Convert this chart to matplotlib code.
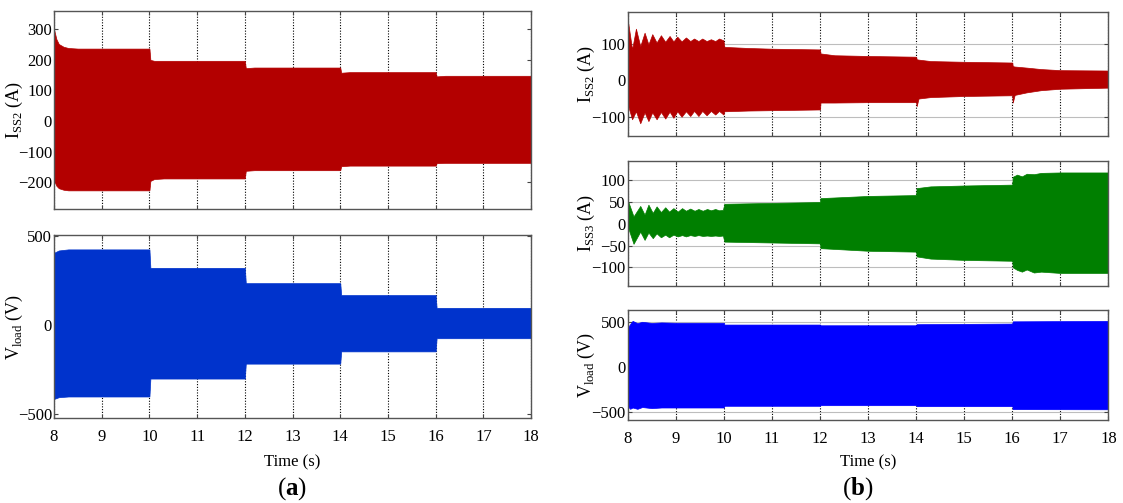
import matplotlib
matplotlib.use('Agg')
import matplotlib.pyplot as plt

plt.rcParams['font.family'] = ['Liberation Serif', 'DejaVu Serif']
plt.rcParams['mathtext.fontset'] = 'custom'
plt.rcParams['mathtext.rm'] = 'Liberation Serif'
plt.rcParams['mathtext.bf'] = 'Liberation Serif:bold'

# ---------------- data (envelopes) ----------------
# (a) I_SS2
t_a_iss2 = [8.0, 8.05, 8.1, 8.2, 8.3, 8.5, 10.0, 10.02, 10.1, 10.3, 12.0, 12.02, 12.2,
            14.0, 14.02, 14.2, 16.0, 16.02, 16.2, 18.0]
up_a_iss2 = [300, 268, 252, 243, 239, 237, 237, 200, 197, 197, 197, 173, 175,
             175, 158, 160, 160, 146, 148, 148]
lo_a_iss2 = [-195, -212, -220, -225, -227, -227, -227, -196, -190, -188, -188, -163, -161,
             -161, -148, -146, -146, -138, -137, -137]

# (a) V_load
t_a_vload = [8.0, 8.1, 8.3, 10.0, 10.02, 12.0, 12.02, 14.0, 14.02, 16.0, 16.02, 18.0]
up_a_vload = [405, 418, 424, 424, 320, 320, 234, 234, 167, 167, 95, 95]
lo_a_vload = [-418, -408, -404, -404, -303, -303, -219, -219, -150, -150, -76, -76]

# (b) I_SS2
t_b_iss2 = [8.00, 8.01, 8.09, 8.17, 8.26, 8.35, 8.43, 8.51, 8.60, 8.69,
            8.78, 8.87, 8.95, 9.03, 9.12, 9.21, 9.30, 9.38, 9.47, 9.55,
            9.64, 9.73, 9.82, 9.90, 9.99, 10.01, 10.5, 11.0, 12.0, 12.01,
            12.3, 13.0, 14.0, 14.01, 14.05, 14.3, 15.0, 16.0, 16.01, 16.05,
            16.3, 16.6, 17.0, 18.0]
up_b_iss2 = [150, 157, 85, 142, 94, 131, 99, 127, 104, 124,
             106, 122, 107, 120, 107, 118, 108, 115, 108, 115,
             108, 113, 108, 115, 110, 92, 89, 87, 85, 74,
             69, 67, 65, 58, 57, 53, 51, 49, 39, 38,
             35, 31, 28, 27]
lo_b_iss2 = [-40, -71, -107, -85, -118, -88, -112, -88, -107, -87,
             -105, -86, -103, -85, -100, -85, -98, -84, -98, -84,
             -96, -84, -94, -84, -94, -85, -83, -82, -80, -61,
             -61, -60, -60, -71, -50, -46, -43, -41, -61, -40,
             -33, -27, -23, -20]

# (b) I_SS3
t_b_iss3 = [8.00, 8.01, 8.12, 8.26, 8.35, 8.43, 8.52, 8.60, 8.69, 8.78,
            8.86, 8.95, 9.04, 9.13, 9.21, 9.30, 9.39, 9.47, 9.56, 9.65,
            9.73, 9.82, 9.90, 9.98, 10.01, 11.0, 12.0, 12.01, 13.0, 14.0,
            14.01, 14.3, 15.0, 16.0, 16.01, 16.1, 16.2, 16.3, 16.45, 16.6,
            17.0, 18.0]
up_b_iss3 = [30, 51, 17, 41, 21, 44, 25, 40, 27, 38,
             28, 36, 28, 36, 30, 35, 30, 34, 30, 34,
             31, 34, 31, 32, 46, 48, 50, 59, 64, 66,
             82, 86, 88, 90, 108, 113, 109, 115, 114, 117,
             118, 118]
lo_b_iss3 = [-5, -10, -46, -18, -37, -20, -33, -22, -31, -25,
             -31, -25, -29, -26, -29, -26, -28, -26, -28, -27,
             -28, -27, -28, -27, -41, -43, -45, -56, -62, -64,
             -75, -80, -83, -85, -100, -106, -110, -105, -112, -110,
             -113, -113]

# (b) V_load
t_b_vload = [8.0, 8.05, 8.1, 8.2, 8.3, 8.5, 8.7, 9.0, 10.0, 10.01,
             12.0, 12.01, 14.0, 14.01, 16.0, 16.01, 18.0]
up_b_vload = [440, 480, 515, 490, 505, 492, 498, 494, 494, 474,
              474, 466, 466, 478, 485, 510, 515]
lo_b_vload = [-440, -470, -455, -470, -450, -462, -455, -455, -455, -436,
              -436, -429, -429, -440, -440, -473, -475]

x_ticks = [8, 9, 10, 11, 12, 13, 14, 15, 16, 17, 18]

# ---------------- figure ----------------
fig = plt.figure(figsize=(11.23, 5.03), dpi=100)


def style(ax, ylim, yticks, hgrid):
    ax.set_xlim(8, 18)
    ax.set_ylim(*ylim)
    ax.set_xticks(x_ticks)
    ax.set_yticks(yticks)
    ax.set_axisbelow(True)
    ax.grid(axis='x', linestyle=(0, (1, 1.5)), color='black', linewidth=0.8)
    if hgrid:
        ax.grid(axis='y', linestyle='-', color='#bdbdbd', linewidth=0.8)
    ax.tick_params(direction='in', top=True, right=True, labelsize=12,
                   length=3, width=0.8, color='#444444', pad=1.5)
    for s in ax.spines.values():
        s.set_color('#555555')
        s.set_linewidth(1.0)


# (a) top
ax1 = fig.add_axes([0.0481, 0.5845, 0.4248, 0.3936])
ax1.fill_between(t_a_iss2, lo_a_iss2, up_a_iss2, color='#b30000', linewidth=0.5)
style(ax1, (-288, 360), [-200, -100, 0, 100, 200, 300], False)
ax1.set_xticklabels([])
ax1.set_ylabel(r'I$_{\mathrm{SS2}}$ (A)', fontsize=13)
ax1.yaxis.set_label_coords(-0.06, 0.5)

# (a) bottom
ax2 = fig.add_axes([0.0481, 0.169, 0.4248, 0.3638])
ax2.fill_between(t_a_vload, lo_a_vload, up_a_vload, color='#0033cc', linewidth=0.5)
style(ax2, (-525, 505), [-500, 0, 500], False)
ax2.set_ylabel(r'V$_{\mathrm{load}}$ (V)', fontsize=13)
ax2.yaxis.set_label_coords(-0.06, 0.5)

# (b) top
ax3 = fig.add_axes([0.559, 0.7296, 0.428, 0.2459])
ax3.fill_between(t_b_iss2, lo_b_iss2, up_b_iss2, color='#b30000', linewidth=0.5)
style(ax3, (-153, 187), [-100, 0, 100], True)
ax3.set_xticklabels([])
ax3.set_ylabel(r'I$_{\mathrm{SS2}}$ (A)', fontsize=13)
ax3.yaxis.set_label_coords(-0.064, 0.5)

# (b) middle
ax4 = fig.add_axes([0.559, 0.4314, 0.428, 0.2491])
ax4.fill_between(t_b_iss3, lo_b_iss3, up_b_iss3, color='#007f00', linewidth=0.5)
style(ax4, (-143, 145), [-100, -50, 0, 50, 100], True)
ax4.set_xticklabels([])
ax4.set_ylabel(r'I$_{\mathrm{SS3}}$ (A)', fontsize=13)
ax4.yaxis.set_label_coords(-0.064, 0.5)

# (b) bottom
ax5 = fig.add_axes([0.559, 0.165, 0.428, 0.2187])
ax5.fill_between(t_b_vload, lo_b_vload, up_b_vload, color='#0000ff', linewidth=0.5)
style(ax5, (-595, 637), [-500, 0, 500], True)
ax5.set_ylabel(r'V$_{\mathrm{load}}$ (V)', fontsize=13)
ax5.yaxis.set_label_coords(-0.064, 0.5)

for ax in (ax2, ax5):
    ax.tick_params(axis='x', pad=8)

fig.text(292 / 1123, 1 - 462 / 503, 'Time (s)', ha='center', va='center', fontsize=12)
fig.text(868 / 1123, 1 - 462 / 503, 'Time (s)', ha='center', va='center', fontsize=12)
fig.text(292 / 1123, 1 - 489 / 503, r'($\mathbf{a}$)', ha='center', va='center', fontsize=18)
fig.text(858 / 1123, 1 - 489 / 503, r'($\mathbf{b}$)', ha='center', va='center', fontsize=18)

fig.savefig('out.png', dpi=100)
